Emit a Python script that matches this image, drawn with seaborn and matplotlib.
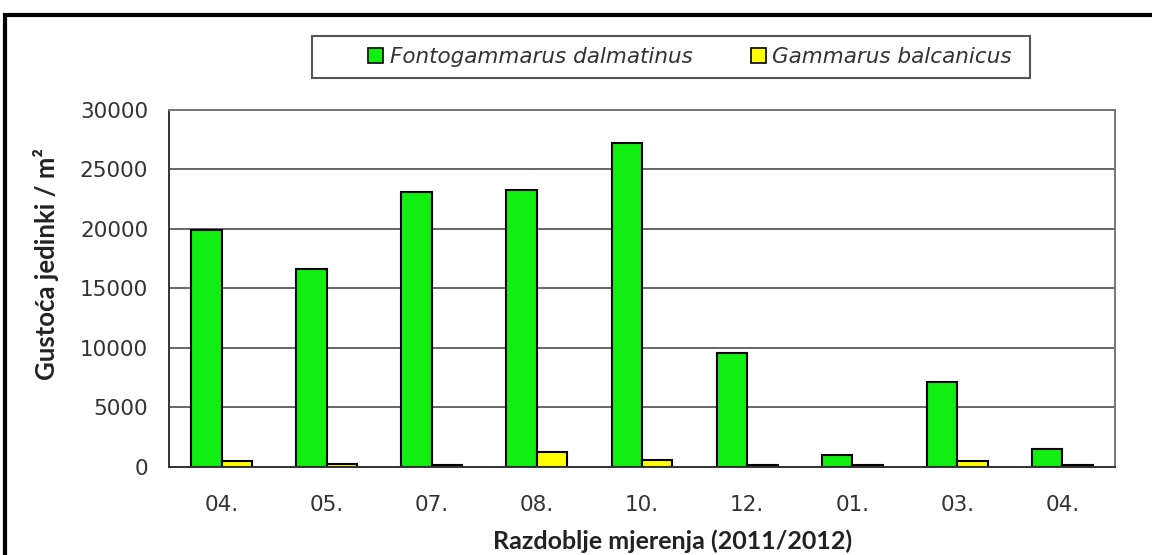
import numpy as np
import pandas as pd
import matplotlib
matplotlib.use('Agg')
import matplotlib.pyplot as plt
from matplotlib.patches import Rectangle
import seaborn as sns

# podaci ocitani sa slike
months = ['04.', '05.', '07.', '08.', '10.', '12.', '01.', '03.', '04.']
fonto = [19900, 16600, 23100, 23300, 27200, 9600, 1000, 7100, 1500]
gamma = [500, 250, 150, 1300, 600, 150, 150, 500, 150]
species = ['Fontogammarus dalmatinus', 'Gammarus balcanicus']
colors = ['#11ee11', '#ffff00']

# long format za seaborn (pozicija kao kategorija, jer se 04. ponavlja)
df = pd.DataFrame({
    'pos': list(range(len(months))) * 2,
    'val': fonto + gamma,
    'vrsta': [species[0]] * len(fonto) + [species[1]] * len(gamma),
})

sns.set_style('white')
plt.rcParams['font.family'] = ['DejaVu Sans']

fig = plt.figure(figsize=(11.52, 5.55), dpi=100)
ax = fig.add_axes([0.1467, 0.1586, 0.8212, 0.6432])

sns.barplot(data=df, x='pos', y='val', hue='vrsta', hue_order=species,
            palette=colors, saturation=1, edgecolor='black', linewidth=1.5,
            width=0.58, ax=ax, legend=False)

ax.set_ylim(0, 30000)
ax.set_xlim(-0.5, len(months) - 0.5)
ax.set_yticks(np.arange(0, 30001, 5000))
ax.yaxis.grid(True, color='#666666', linewidth=1.4)
ax.set_axisbelow(True)

ax.set_xticks(range(len(months)))
ax.set_xticklabels(months)
ax.set_xticks(np.arange(-0.5, len(months)), minor=True)
ax.tick_params(axis='x', which='major', length=0, labelsize=15.5, colors='#333333', pad=20)
ax.tick_params(axis='x', which='minor', length=9, width=1.2, color='#333333', direction='inout')
ax.tick_params(axis='y', length=9, width=1.2, color='#333333', direction='out',
               labelsize=15.5, labelcolor='#333333', pad=6)

for s in ['top', 'right']:
    ax.spines[s].set_color('#777777')
    ax.spines[s].set_linewidth(1.4)
for s in ['left', 'bottom']:
    ax.spines[s].set_color('#333333')
    ax.spines[s].set_linewidth(1.4)

ax.set_xlabel('Razdoblje mjerenja (2011/2012)', fontsize=18, fontweight='bold',
              family=['Lato', 'DejaVu Sans'], color='#222222', va='center')
ax.xaxis.set_label_coords(0.532, -0.207)
ax.set_ylabel('Gustoća jedinki / m²', fontsize=18.5, fontweight='bold',
              family=['Lato', 'DejaVu Sans'], color='#222222', va='center')
ax.yaxis.set_label_coords(-0.130, 0.569)

# legenda u okviru
fig.patches.append(Rectangle((312 / 1152, 1 - 78 / 555), 718 / 1152, 42 / 555,
                             transform=fig.transFigure, fill=False,
                             edgecolor='#555555', linewidth=1.5))
handles = [Rectangle((0, 0), 1, 1, facecolor=c, edgecolor='black', linewidth=1.2)
           for c in colors]
fig.legend(handles, species, loc='center', bbox_to_anchor=(690 / 1152, 1 - 57 / 555),
           ncol=2, frameon=False, prop={'style': 'italic', 'size': 15.5},
           handlelength=0.7, handleheight=0.7, handletextpad=0.3, columnspacing=2.7,
           labelcolor='#333333')

# vanjski okvir
fig.patches.append(Rectangle((5 / 1152, -0.1), 1.1, 1.1 - 15 / 555,
                             transform=fig.transFigure, fill=False,
                             edgecolor='black', linewidth=3))

fig.savefig('out.png', dpi=100)
